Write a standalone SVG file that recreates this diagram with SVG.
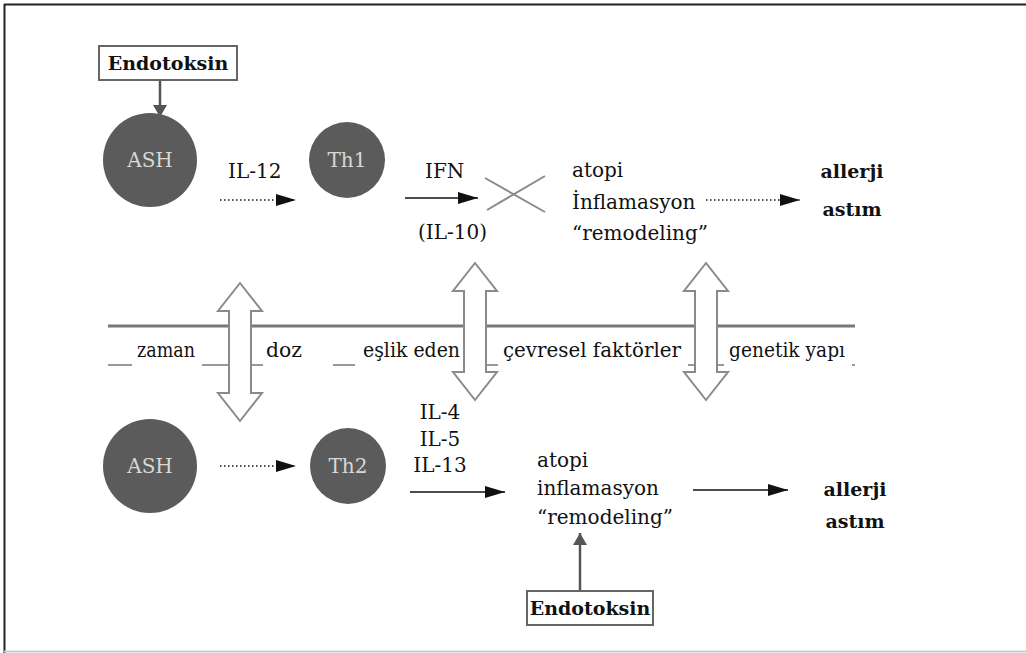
<svg xmlns="http://www.w3.org/2000/svg" width="1026" height="653" viewBox="0 0 1026 653">
<style>
.t{font-family:"DejaVu Serif","Liberation Serif",serif;font-size:20px;fill:#111}
.b{font-family:"DejaVu Serif","Liberation Serif",serif;font-size:19px;font-weight:bold;fill:#111}
.c{font-family:"DejaVu Serif","Liberation Serif",serif;font-size:20px;fill:#d8d8d8;text-anchor:middle}
.node{fill:#5b5b5b}
.box{fill:#fff;stroke:#666;stroke-width:2}
.conn{stroke:#111;stroke-width:1.6;fill:none}
.dot{stroke:#111;stroke-width:1.4;fill:none;stroke-dasharray:1.5 2.5}
.grayc{stroke:#555;stroke-width:2.5;fill:none}
.dbl{fill:#fff;stroke:#8a8a8a;stroke-width:2}
.lbl{fill:#fff}
</style>
<defs>
<marker id="ah" viewBox="0 0 20 12" refX="20" refY="6" markerWidth="20" markerHeight="12" markerUnits="userSpaceOnUse" orient="auto"><path d="M0,0 L20,6 L0,12 Z" fill="#111"/></marker>
<marker id="gh" viewBox="0 0 12 14" refX="12" refY="7" markerWidth="12" markerHeight="14" markerUnits="userSpaceOnUse" orient="auto"><path d="M0,0 L12,7 L0,14 Z" fill="#555"/></marker>
</defs>
<rect x="0" y="0" width="1026" height="653" fill="#fff"/>
<line x1="4.5" y1="4" x2="4.5" y2="653" stroke="#222" stroke-width="2"/>
<line x1="4" y1="4.5" x2="1026" y2="4.5" stroke="#222" stroke-width="2"/>
<line x1="4" y1="651.5" x2="1026" y2="651.5" stroke="#ccc" stroke-width="2"/>

<g id="band">
<line x1="108" y1="326" x2="855" y2="326" stroke="#777" stroke-width="3"/>
<line x1="108" y1="365" x2="855" y2="365" stroke="#999" stroke-width="2"/>
<rect class="lbl" x="132" y="334" width="70" height="33"/>
<rect class="lbl" x="263" y="334" width="70" height="33"/>
<rect class="lbl" x="355" y="334" width="108" height="33"/>
<rect class="lbl" x="498" y="334" width="190" height="33"/>
<rect class="lbl" x="724" y="334" width="128" height="33"/>
<text class="t" x="137" y="357" textLength="58" lengthAdjust="spacingAndGlyphs">zaman</text>
<text class="t" x="266" y="357" textLength="36" lengthAdjust="spacingAndGlyphs">doz</text>
<text class="t" x="363" y="357" textLength="97" lengthAdjust="spacingAndGlyphs">eşlik eden</text>
<text class="t" x="503" y="357" textLength="178" lengthAdjust="spacingAndGlyphs">çevresel faktörler</text>
<text class="t" x="729" y="357" textLength="116" lengthAdjust="spacingAndGlyphs">genetik yapı</text>
</g>

<g id="dblarrows">
<path class="dbl" d="M240,283 L262,311 L251,311 L251,393 L262,393 L240,421 L218,393 L229,393 L229,311 L218,311 Z"/>
<path class="dbl" d="M475,263 L497,291 L486,291 L486,372 L497,372 L475,400 L453,372 L464,372 L464,291 L453,291 Z"/>
<path class="dbl" d="M706,263 L728,291 L717,291 L717,372 L728,372 L706,400 L684,372 L695,372 L695,291 L684,291 Z"/>
</g>

<g id="connectors">
<line class="grayc" x1="160" y1="80" x2="160" y2="117" marker-end="url(#gh)"/>
<line class="dot" x1="220" y1="200" x2="296" y2="200" marker-end="url(#ah)"/>
<line class="conn" x1="405" y1="198" x2="478" y2="198" marker-end="url(#ah)"/>
<line class="dot" x1="706" y1="200" x2="800" y2="200" marker-end="url(#ah)"/>
<line class="dot" x1="220" y1="466" x2="296" y2="466" marker-end="url(#ah)"/>
<line class="conn" x1="410" y1="492" x2="505" y2="492" marker-end="url(#ah)"/>
<line class="conn" x1="693" y1="490" x2="788" y2="490" marker-end="url(#ah)"/>
<line class="grayc" x1="580" y1="590" x2="580" y2="533" marker-end="url(#gh)"/>
<g id="cross" stroke="#8a8a8a" stroke-width="2">
<line x1="485" y1="178" x2="545" y2="212"/>
<line x1="487" y1="210" x2="545" y2="176"/>
</g>
</g>

<g id="endotoksin-top">
<rect class="box" x="99" y="46" width="138" height="34"/>
<text class="b" x="168" y="70" text-anchor="middle">Endotoksin</text>
</g>
<g id="ash1"><circle class="node" cx="150" cy="160" r="47"/><text class="c" x="150" y="167">ASH</text></g>
<g id="il12"><text class="t" x="228" y="178">IL-12</text></g>
<g id="th1"><circle class="node" cx="347" cy="160" r="38"/><text class="c" x="347" y="167">Th1</text></g>
<g id="ifn"><text class="t" x="425" y="178">IFN</text><text class="t" x="418" y="239">(IL-10)</text></g>
<g id="out1"><text class="t" x="572" y="177">atopi</text><text class="t" x="572" y="209">İnflamasyon</text><text class="t" x="572" y="240">“remodeling”</text></g>
<g id="res1"><text class="b" x="852" y="178" text-anchor="middle">allerji</text><text class="b" x="852" y="216" text-anchor="middle">astım</text></g>

<g id="ash2"><circle class="node" cx="150" cy="466" r="47"/><text class="c" x="150" y="473">ASH</text></g>
<g id="th2"><circle class="node" cx="348" cy="466" r="38"/><text class="c" x="348" y="473">Th2</text></g>
<g id="ils"><text class="t" x="440" y="419" text-anchor="middle">IL-4</text><text class="t" x="440" y="446" text-anchor="middle">IL-5</text><text class="t" x="440" y="472" text-anchor="middle">IL-13</text></g>
<g id="out2"><text class="t" x="537" y="467">atopi</text><text class="t" x="537" y="495">inflamasyon</text><text class="t" x="537" y="524">“remodeling”</text></g>
<g id="res2"><text class="b" x="855" y="496" text-anchor="middle">allerji</text><text class="b" x="855" y="528" text-anchor="middle">astım</text></g>
<g id="endotoksin-bottom">
<rect class="box" x="527" y="591" width="126" height="34"/>
<text class="b" x="590" y="615" text-anchor="middle">Endotoksin</text>
</g>
</svg>
